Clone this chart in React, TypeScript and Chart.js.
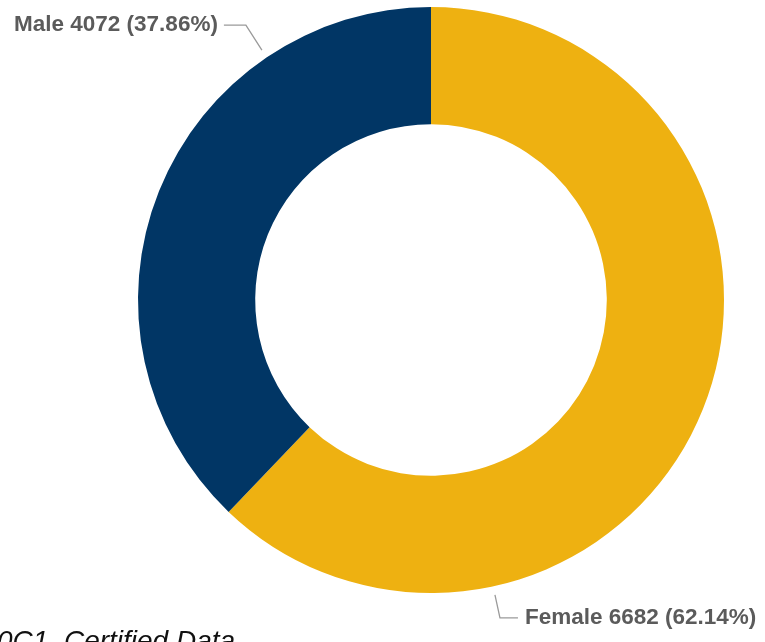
import React, { useEffect, useRef } from "react";
import { Chart, registerables } from "chart.js";

Chart.register(...registerables);

const categories = ["Female", "Male"];
const values = [6682, 4072];
const percents = ["62.14%", "37.86%"];
const colors = ["#EEB111", "#013665"];
const footnote = "0C1, Certified Data";

const labelPlugin = {
  id: "calloutLabels",
  afterDraw(chart: any) {
    const ctx = chart.ctx;
    const meta = chart.getDatasetMeta(0);
    ctx.save();
    ctx.font = "bold 22.5px 'Liberation Sans', Arial, sans-serif";
    ctx.textBaseline = "middle";
    meta.data.forEach((arc: any, i: number) => {
      const a = arc.startAngle + 0.75 * (arc.endAngle - arc.startAngle);
      const r = arc.outerRadius * 1.03;
      const ax = arc.x + Math.cos(a) * r;
      const ay = arc.y + Math.sin(a) * r;
      const right = Math.cos(a) >= 0;
      const ex = right ? ax + 5 : ax - 16;
      const ey = right ? ay + 23 : ay - 25;
      const hx = right ? ex + 18 : ex - 22;
      ctx.strokeStyle = "#9a9a9a";
      ctx.lineWidth = 1.3;
      ctx.beginPath();
      ctx.moveTo(ax, ay);
      ctx.lineTo(ex, ey);
      ctx.lineTo(hx, ey);
      ctx.stroke();
      ctx.fillStyle = "#5b5b5b";
      ctx.textAlign = right ? "left" : "right";
      const txt = `${categories[i]} ${values[i]} (${percents[i]})`;
      ctx.fillText(txt, right ? hx + 7 : hx - 6, ey);
    });
    ctx.font = "italic 28px 'Liberation Sans', Arial, sans-serif";
    ctx.fillStyle = "#111";
    ctx.textAlign = "left";
    ctx.textBaseline = "alphabetic";
    ctx.fillText(footnote, -3, 650);
    ctx.restore();
  },
};

export default function App() {
  const ref = useRef<HTMLCanvasElement>(null);
  useEffect(() => {
    const chart = new Chart(ref.current!, {
      type: "doughnut",
      data: {
        labels: categories,
        datasets: [
          {
            data: values,
            backgroundColor: colors,
            borderWidth: 0,
          },
        ],
      },
      options: {
        animation: false,
        responsive: false,
        cutout: "60%",
        layout: { padding: { left: 138, right: 41, top: 7, bottom: 49 } },
        plugins: { legend: { display: false }, tooltip: { enabled: false } },
      },
      plugins: [labelPlugin],
    });
    return () => chart.destroy();
  }, []);
  return (
    <div style={{ position: "fixed", left: 0, top: 0, width: 765, height: 642, background: "#fff" }}>
      <canvas ref={ref} width={765} height={642} style={{ width: 765, height: 642 }} />
    </div>
  );
}
